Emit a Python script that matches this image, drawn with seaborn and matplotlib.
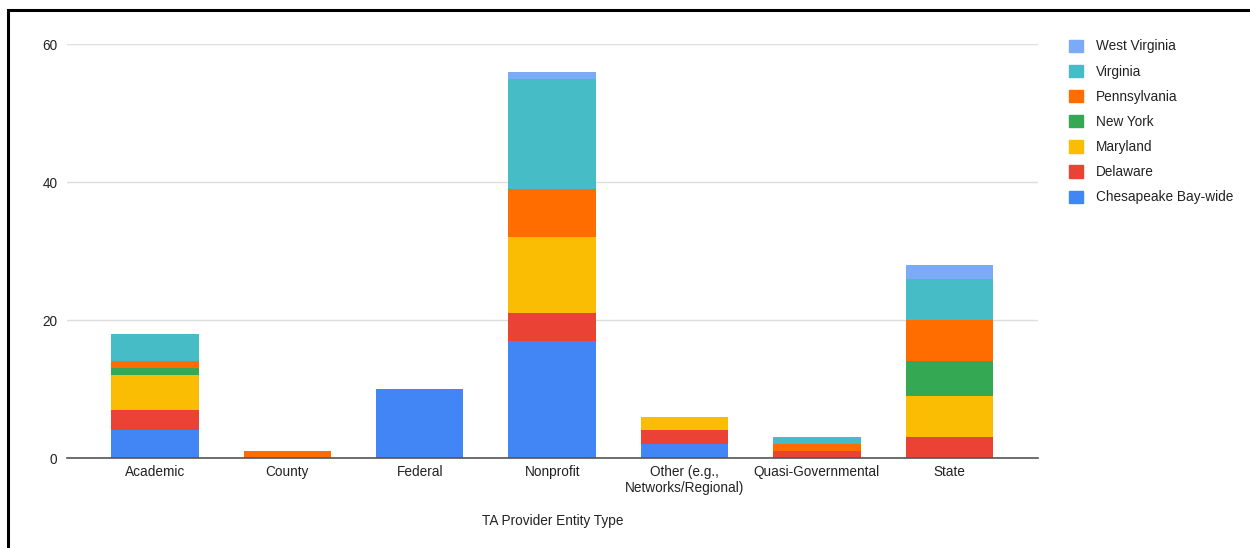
import matplotlib
matplotlib.use("Agg")
import matplotlib.pyplot as plt
import matplotlib.patches as mpatches
import numpy as np
import seaborn as sns

categories = ["Academic", "County", "Federal", "Nonprofit",
              "Other (e.g.,\nNetworks/Regional)", "Quasi-Governmental", "State"]
series_names = ["Chesapeake Bay-wide", "Delaware", "Maryland", "New York",
                "Pennsylvania", "Virginia", "West Virginia"]
bay_wide = [4, 0, 10, 17, 2, 0, 0]
delaware = [3, 0, 0, 4, 2, 1, 3]
maryland = [5, 0, 0, 11, 2, 0, 6]
new_york = [1, 0, 0, 0, 0, 0, 5]
pennsylvania = [1, 1, 0, 7, 0, 1, 6]
virginia = [4, 0, 0, 16, 0, 1, 6]
west_virginia = [0, 0, 0, 1, 0, 0, 2]
y_ticks = [0, 20, 40, 60]
colors = ["#4285F4", "#EA4335", "#FBBC04", "#34A853", "#FF6D01", "#46BDC6", "#7BAAF7"]

sns.set_theme(style="white")
plt.rcParams['font.family'] = ['Liberation Sans', 'DejaVu Sans']

fig = plt.figure(figsize=(12.5, 5.48), dpi=100)
ax = fig.add_axes([67/1250, 1-458/548, (1038-67)/1250, (458-44)/548])

all_series = [bay_wide, delaware, maryland, new_york, pennsylvania, virginia, west_virginia]
bottom = np.zeros(len(categories))
for name, vals, col in zip(series_names, all_series, colors):
    sns.barplot(x=categories, y=vals, order=categories, bottom=bottom, color=col,
                width=0.66, linewidth=0, saturation=1, ax=ax, errorbar=None)
    bottom = bottom + np.array(vals)

ax.set_xlim(-0.665, 6.67)
ax.set_ylim(0, 60)
ax.set_yticks(y_ticks)
ax.set_yticklabels([str(t) for t in y_ticks])
ax.yaxis.grid(True, color="#dddddd", linewidth=1)
ax.set_axisbelow(True)
for s in ["top", "right", "left"]:
    ax.spines[s].set_visible(False)
ax.spines["bottom"].set_color("#555555")
ax.spines["bottom"].set_linewidth(1.2)
ax.spines["bottom"].set_zorder(5)
ax.tick_params(axis="both", length=0, labelsize=9.8, colors="#222222")
ax.tick_params(axis="y", pad=7)
ax.tick_params(axis="x", pad=5)
for lbl in ax.get_xticklabels():
    lbl.set_linespacing(1.15)
ax.set_xlabel("TA Provider Entity Type", fontsize=9.8, color="#222222")
ax.xaxis.set_label_coords(0.5, -0.135)
ax.set_ylabel("")

handles = [mpatches.Patch(color=c, label=n) for n, c in zip(series_names, colors)][::-1]
leg = fig.legend(handles=handles, loc="upper left", bbox_to_anchor=(1064/1250, 1-34/548),
                 frameon=False, fontsize=9.8, handlelength=1.0, handleheight=1.0,
                 handletextpad=0.95, labelspacing=0.82, borderaxespad=0)
for t in leg.get_texts():
    t.set_color("#222222")

# outer border (top and left visible, as in the reference crop)
fig.add_artist(mpatches.Rectangle((8/1250, -0.1), 1.2, 1 - 10/548 + 0.1,
                                  transform=fig.transFigure, fill=False,
                                  edgecolor="black", linewidth=2.2))

fig.savefig("out.png", dpi=100)
